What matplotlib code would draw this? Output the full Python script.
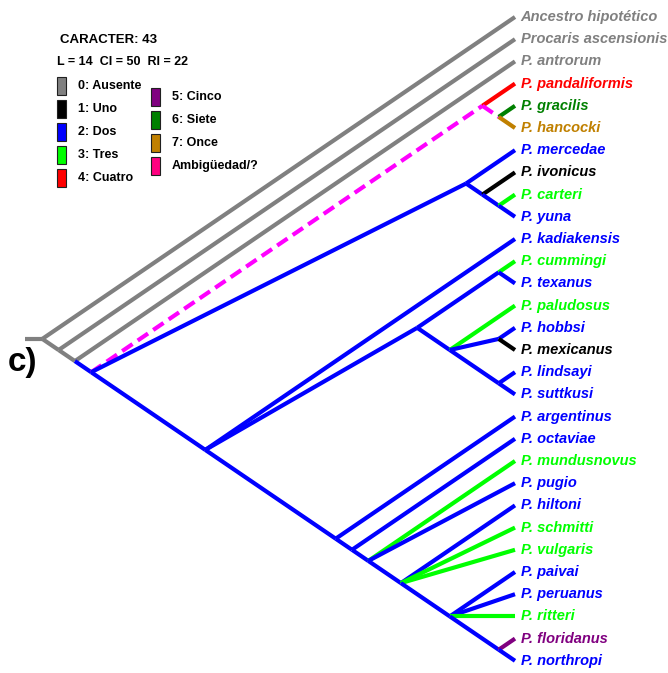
import matplotlib
matplotlib.use('Agg')
import matplotlib.pyplot as plt
from matplotlib.patches import Rectangle

# terminal taxa, top to bottom
taxa = ['Ancestro hipotético', 'Procaris ascensionis', 'P. antrorum', 'P. pandaliformis',
        'P. gracilis', 'P. hancocki', 'P. mercedae', 'P. ivonicus', 'P. carteri', 'P. yuna',
        'P. kadiakensis', 'P. cummingi', 'P. texanus', 'P. paludosus', 'P. hobbsi',
        'P. mexicanus', 'P. lindsayi', 'P. suttkusi', 'P. argentinus', 'P. octaviae',
        'P. mundusnovus', 'P. pugio', 'P. hiltoni', 'P. schmitti', 'P. vulgaris',
        'P. paivai', 'P. peruanus', 'P. ritteri', 'P. floridanus', 'P. northropi']
# character state of each terminal
states = ['0', '0', '0', '4', '6', '7', '2', '1', '3', '2',
          '2', '3', '2', '3', '2', '1', '2', '2', '2', '2',
          '3', '2', '2', '3', '3', '2', '2', '3', '5', '2']

# clades: (state of the branch leading to the clade, children)
tree = ('0', [0, ('0', [1, ('0', [2, ('2', [
    ('?', [3, ('?', [4, 5])]),
    ('2', [6, ('2', [7, ('2', [8, 9])])]),
    ('2', [10,
           ('2', [('2', [11, 12]), ('2', [13, ('2', [14, 15]), ('2', [16, 17])])]),
           ('2', [18, ('2', [19, ('2', [20, 21, ('2', [22, 23, 24,
                                                        ('2', [25, 26, 27, ('2', [28, 29])])])])])])]),
])])])])

state_colors = {'0': '#808080', '1': '#000000', '2': '#0000FF', '3': '#00FF00',
                '4': '#FF0000', '5': '#800080', '6': '#008000', '7': '#C08000',
                '?': '#FF00FF'}
legend_col1 = ['0: Ausente', '1: Uno', '2: Dos', '3: Tres', '4: Cuatro']
legend_col1_colors = ['#808080', '#000000', '#0000FF', '#00FF00', '#FF0000']
legend_col2 = ['5: Cinco', '6: Siete', '7: Once', 'Ambigüedad/?']
legend_col2_colors = ['#800080', '#008000', '#C08000', '#FF0080']

font = 'Liberation Sans'

W, H = 668, 673
fig = plt.figure(figsize=(W / 100, H / 100), dpi=100)
ax = fig.add_axes([0, 0, 1, 1])
ax.axis('off')

# pixel scale of one tip step / half-step run
tip_px, y0, dy, run = 515, 17, 22.2, 32.6
ax.set_xlim(-tip_px / run, (W - tip_px) / run)
ax.set_ylim((H - y0) / dy, -y0 / dy)


def span(node):
    if isinstance(node, int):
        return node, node
    s = [span(c) for c in node[1]]
    return min(a for a, b in s), max(b for a, b in s)


def pos(node):
    lo, hi = span(node)
    return -(hi - lo) / 2, (lo + hi) / 2


def draw(node):
    x, y = pos(node)
    for child in node[1]:
        cx, cy = pos(child)
        st = states[child] if isinstance(child, int) else child[0]
        ls = (0, (3, 1.5)) if st == '?' else '-'
        ax.plot([x, cx], [y, cy], color=state_colors[st], lw=3, ls=ls,
                solid_capstyle='butt', dash_capstyle='butt')
        if not isinstance(child, int):
            draw(child)


rx, ry = pos(tree)
ax.plot([rx - 0.52, rx], [ry, ry], color=state_colors['0'], lw=3, solid_capstyle='butt')
draw(tree)

for i, name in enumerate(taxa):
    ax.text(0.17, i, name, va='center', ha='left', color=state_colors[states[i]],
            fontsize=10.5, fontweight='bold', fontstyle='italic', family=font)


def ftext(px, py, s, **kw):
    fig.text(px / W, 1 - py / H, s, va='center', ha='left', **kw)


ftext(60, 40, 'CARACTER: 43', fontsize=9.5, fontweight='bold', family=font)
ftext(57, 62, 'L = 14  CI = 50  RI = 22', fontsize=9, fontweight='bold', family=font)
for col, (labels, colors, bx, by) in enumerate([(legend_col1, legend_col1_colors, 57, 77),
                                                 (legend_col2, legend_col2_colors, 151, 88)]):
    for k, (lab, c) in enumerate(zip(labels, colors)):
        top = by + 23 * k
        fig.patches.append(Rectangle((bx / W, 1 - (top + 18) / H), 9 / W, 18 / H,
                                     transform=fig.transFigure, facecolor=c,
                                     edgecolor='#202020', lw=0.8))
        ftext(bx + 21, top + 9, lab, fontsize=9, fontweight='bold', family=font)

ftext(8, 363, 'c)', fontsize=24, fontweight='bold', family=font)

fig.savefig('out.png', dpi=100)
